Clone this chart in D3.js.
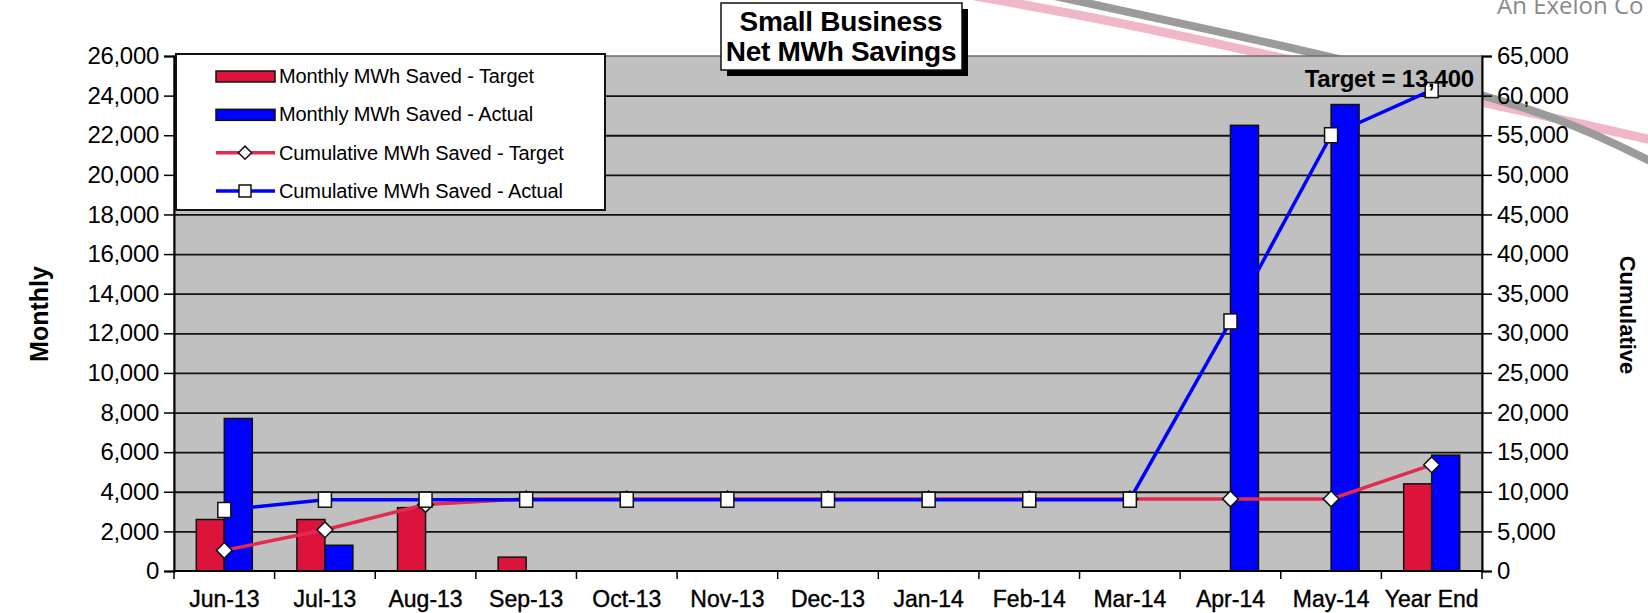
<!DOCTYPE html>
<html>
<head>
<meta charset="utf-8">
<script src="https://cdn.jsdelivr.net/npm/d3@7"></script>
<style>
body { margin: 0; background: #fff; }
svg { display: block; font-family: "Liberation Sans", Arial, sans-serif; }
</style>
</head>
<body>
<svg width="1648" height="613"></svg>
<script>
var categories = ['Jun-13', 'Jul-13', 'Aug-13', 'Sep-13', 'Oct-13', 'Nov-13', 'Dec-13',
  'Jan-14', 'Feb-14', 'Mar-14', 'Apr-14', 'May-14', 'Year End'];
var monthlyTarget = [2600, 2600, 3200, 700, 0, 0, 0, 0, 0, 0, 0, 0, 4400];
var monthlyActual = [7700, 1300, 0, 0, 0, 0, 0, 0, 0, 0, 22500, 23550, 5850];
var cumulativeTarget = [2600, 5200, 8400, 9100, 9100, 9100, 9100, 9100, 9100, 9100, 9100, 9100, 13400];
var cumulativeActual = [7700, 9000, 9000, 9000, 9000, 9000, 9000, 9000, 9000, 9000, 31500, 55000, 60700];
var leftTicks = d3.range(0, 26001, 2000);
var rightTicks = d3.range(0, 65001, 5000);
var legendLabels = ['Monthly MWh Saved - Target', 'Monthly MWh Saved - Actual',
  'Cumulative MWh Saved - Target', 'Cumulative MWh Saved - Actual'];

window.onload = function() {
var svg = d3.select('svg');

var red = '#dc143c';
var redLine = '#e32b50';
var blue = '#0000ff';

var plotLeft = 174, plotRight = 1482, plotTop = 56, plotBottom = 571;

var x = d3.scaleBand().domain(categories).range([plotLeft, plotRight]);
var yLeft = d3.scaleLinear().domain([0, 26000]).range([plotBottom, plotTop]);
var yRight = d3.scaleLinear().domain([0, 65000]).range([plotBottom, plotTop]);
var fmt = d3.format(',');

// logo swooshes behind the chart
var swoosh = d3.line().curve(d3.curveBasis);
svg.append('path')
  .attr('d', swoosh([[975, -4], [1120, 22], [1300, 62], [1480, 102], [1600, 128], [1660, 142]]))
  .attr('fill', 'none').attr('stroke', '#f0b8c6').attr('stroke-width', 9);
svg.append('path')
  .attr('d', swoosh([[1045, -6], [1250, 38], [1420, 78], [1560, 116], [1660, 166]]))
  .attr('fill', 'none').attr('stroke', '#9b9b9b').attr('stroke-width', 8);
svg.append('text')
  .attr('x', 1497).attr('y', 14)
  .attr('fill', '#8a8a8a').style('font-size', '24px').style('font-family', '"Open Sans", sans-serif')
  .text('An Exelon Co');

// plot background
svg.append('rect')
  .attr('x', plotLeft).attr('y', plotTop)
  .attr('width', plotRight - plotLeft).attr('height', plotBottom - plotTop)
  .attr('fill', '#c0c0c0').attr('stroke', '#6e6e6e').attr('stroke-width', 1.5);

// gridlines
svg.append('g')
  .attr('transform', 'translate(' + plotLeft + ',0)')
  .call(d3.axisLeft(yLeft).tickValues(leftTicks.slice(1, -1)).tickSize(-(plotRight - plotLeft)).tickFormat(''))
  .call(function(g) { g.select('.domain').remove(); })
  .selectAll('line').attr('stroke', '#111').attr('stroke-width', 1.8);

// bars
var bw = 28;
svg.append('g').selectAll('rect')
  .data(monthlyTarget)
  .enter().append('rect')
  .attr('x', function(d, i) { return x(categories[i]) + x.bandwidth() / 2 - bw; })
  .attr('y', function(d) { return yLeft(d); })
  .attr('width', bw)
  .attr('height', function(d) { return plotBottom - yLeft(d); })
  .attr('fill', red).attr('stroke', '#111').attr('stroke-width', 1.5)
  .style('display', function(d) { return d > 0 ? null : 'none'; });
svg.append('g').selectAll('rect')
  .data(monthlyActual)
  .enter().append('rect')
  .attr('x', function(d, i) { return x(categories[i]) + x.bandwidth() / 2; })
  .attr('y', function(d) { return yLeft(d); })
  .attr('width', bw)
  .attr('height', function(d) { return plotBottom - yLeft(d); })
  .attr('fill', blue).attr('stroke', '#111').attr('stroke-width', 1.5)
  .style('display', function(d) { return d > 0 ? null : 'none'; });

// axes
var leftAxis = svg.append('g')
  .attr('transform', 'translate(' + plotLeft + ',0)')
  .call(d3.axisLeft(yLeft).tickValues(leftTicks).tickSize(10).tickPadding(5).tickFormat(fmt));
var rightAxis = svg.append('g')
  .attr('transform', 'translate(' + plotRight + ',0)')
  .call(d3.axisRight(yRight).tickValues(rightTicks).tickSize(10).tickPadding(5).tickFormat(fmt));
var bottomAxis = svg.append('g')
  .attr('transform', 'translate(0,' + plotBottom + ')')
  .call(d3.axisBottom(x).tickSize(0).tickPadding(20));
[leftAxis, rightAxis, bottomAxis].forEach(function(a) {
  a.select('.domain').attr('stroke', '#000').attr('stroke-width', 2);
  a.selectAll('line').attr('stroke', '#000').attr('stroke-width', 1.5);
  a.selectAll('text').attr('fill', '#000')
    .style('font-size', '24px').style('font-family', '"Liberation Sans", Arial, sans-serif')
    .style('letter-spacing', '-0.3px');
});
bottomAxis.selectAll('text').style('font-size', '23px').style('letter-spacing', '0px')
  .attr('stroke', '#000').attr('stroke-width', 0.4);
bottomAxis.select('.domain').attr('d', 'M' + plotLeft + ',0H' + plotRight);
svg.append('g').selectAll('line')
  .data(categories.concat(['end']))
  .enter().append('line')
  .attr('x1', function(d, i) { return plotLeft + i * x.step(); })
  .attr('x2', function(d, i) { return plotLeft + i * x.step(); })
  .attr('y1', plotBottom).attr('y2', plotBottom + 8)
  .attr('stroke', '#000').attr('stroke-width', 1.5);

// cumulative lines
var lineT = d3.line()
  .x(function(d, i) { return x(categories[i]) + x.bandwidth() / 2; })
  .y(function(d) { return yRight(d); });
svg.append('path').datum(cumulativeTarget)
  .attr('d', lineT).attr('fill', 'none').attr('stroke', redLine).attr('stroke-width', 3.5);
svg.append('g').selectAll('path')
  .data(cumulativeTarget)
  .enter().append('path')
  .attr('d', d3.symbol().type(d3.symbolDiamond2).size(160)())
  .attr('transform', function(d, i) {
    return 'translate(' + (x(categories[i]) + x.bandwidth() / 2) + ',' + yRight(d) + ')';
  })
  .attr('fill', '#fff').attr('stroke', '#111').attr('stroke-width', 1.5);

svg.append('path').datum(cumulativeActual)
  .attr('d', lineT).attr('fill', 'none').attr('stroke', blue).attr('stroke-width', 3.5);
svg.append('g').selectAll('rect')
  .data(cumulativeActual)
  .enter().append('rect')
  .attr('x', function(d, i) { return x(categories[i]) + x.bandwidth() / 2 - 6.5; })
  .attr('y', function(d) { return yRight(d) - 7.5; })
  .attr('width', 13).attr('height', 15)
  .attr('fill', '#fff').attr('stroke', '#111').attr('stroke-width', 1.5);

// target note
svg.append('text')
  .attr('x', 1474).attr('y', 87)
  .attr('text-anchor', 'end')
  .style('font-size', '24px').style('font-weight', 'bold').style('letter-spacing', '-0.2px')
  .text('Target = 13,400');

// axis titles
svg.append('text')
  .attr('transform', 'translate(48,314) rotate(-90)')
  .attr('text-anchor', 'middle')
  .style('font-size', '25px').style('font-weight', 'bold')
  .text('Monthly');
svg.append('text')
  .attr('transform', 'translate(1620,315) rotate(90)')
  .attr('text-anchor', 'middle')
  .style('font-size', '22px').style('font-weight', 'bold')
  .text('Cumulative');

// legend
var legend = svg.append('g');
legend.append('rect')
  .attr('x', 176).attr('y', 54).attr('width', 429).attr('height', 156)
  .attr('fill', '#fff').attr('stroke', '#111').attr('stroke-width', 2);
var rowY = d3.scalePoint().domain(legendLabels).range([76, 191]);
legend.selectAll('text')
  .data(legendLabels)
  .enter().append('text')
  .attr('x', 279).attr('y', function(d) { return rowY(d); })
  .attr('dy', '0.35em')
  .style('font-size', '20px').style('letter-spacing', '-0.1px')
  .text(function(d) { return d; });
legend.append('rect').attr('x', 216).attr('y', rowY(legendLabels[0]) - 5).attr('width', 59).attr('height', 11)
  .attr('fill', red).attr('stroke', '#111').attr('stroke-width', 1.5);
legend.append('rect').attr('x', 216).attr('y', rowY(legendLabels[1]) - 5).attr('width', 59).attr('height', 11)
  .attr('fill', blue).attr('stroke', '#111').attr('stroke-width', 1.5);
legend.append('line').attr('x1', 216).attr('x2', 275)
  .attr('y1', rowY(legendLabels[2])).attr('y2', rowY(legendLabels[2]))
  .attr('stroke', redLine).attr('stroke-width', 3.5);
legend.append('path')
  .attr('d', d3.symbol().type(d3.symbolDiamond2).size(110)())
  .attr('transform', 'translate(245,' + rowY(legendLabels[2]) + ')')
  .attr('fill', '#fff').attr('stroke', '#111').attr('stroke-width', 1.5);
legend.append('line').attr('x1', 216).attr('x2', 275)
  .attr('y1', rowY(legendLabels[3])).attr('y2', rowY(legendLabels[3]))
  .attr('stroke', blue).attr('stroke-width', 3.5);
legend.append('rect').attr('x', 239).attr('y', rowY(legendLabels[3]) - 6).attr('width', 12).attr('height', 12)
  .attr('fill', '#fff').attr('stroke', '#111').attr('stroke-width', 1.5);

// title box
svg.append('rect').attr('x', 727).attr('y', 9).attr('width', 241).attr('height', 67).attr('fill', '#000');
svg.append('rect').attr('x', 721).attr('y', 3).attr('width', 241).attr('height', 67)
  .attr('fill', '#fff').attr('stroke', '#111').attr('stroke-width', 1.5);
svg.append('text').attr('x', 841).attr('y', 31).attr('text-anchor', 'middle')
  .style('font-size', '28px').style('font-weight', 'bold').style('letter-spacing', '-0.3px')
  .text('Small Business');
svg.append('text').attr('x', 841).attr('y', 61).attr('text-anchor', 'middle')
  .style('font-size', '28px').style('font-weight', 'bold').style('letter-spacing', '-0.3px')
  .text('Net MWh Savings');
};
</script>
</body>
</html>
